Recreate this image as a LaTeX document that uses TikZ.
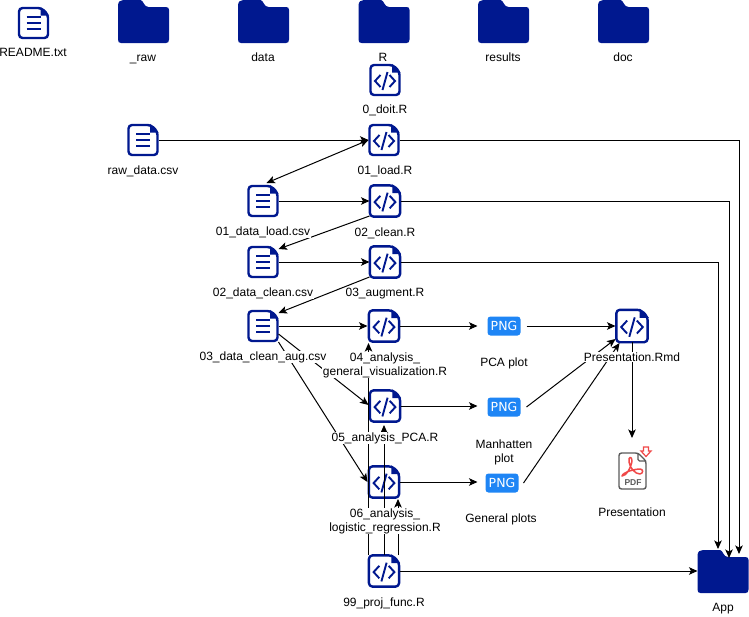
\documentclass[tikz,border=0pt]{standalone}
\usepackage{fontspec}
\setmainfont{Liberation Sans}
\newfontfamily\pngfont{DejaVu Sans}
\usetikzlibrary{arrows.meta,calc}
\definecolor{navy}{HTML}{00188F}
\definecolor{pngblue}{HTML}{1E85F5}
\definecolor{pdfred}{HTML}{F04848}
\definecolor{pdfgray}{HTML}{5A5A5A}
\tikzset{
  filebox/.style={shape=rectangle,inner sep=0pt,outer sep=0pt,minimum width=31pt,minimum height=32pt},
  folderbox/.style={shape=rectangle,inner sep=0pt,outer sep=0pt,minimum width=51pt,minimum height=43pt},
  pngbox/.style={shape=rectangle,rounded corners=3pt,fill=pngblue,text=white,inner sep=0pt,outer sep=0pt,minimum width=33pt,minimum height=19pt,font=\pngfont\fontsize{12.5}{13}\selectfont},
  pdfbox/.style={shape=rectangle,inner sep=0pt,outer sep=0pt,minimum width=28pt,minimum height=38pt},
  lab/.style={inner sep=0.5pt,fill=white,anchor=base,font=\fontsize{12}{14}\selectfont},
  lab2/.style={inner sep=0.5pt,fill=white,anchor=center,align=center,font=\fontsize{12}{14}\selectfont},
  conn/.style={draw=black,line width=1pt,-{Stealth[length=8.5pt,width=7.5pt,inset=2pt]}},
  bothconn/.style={draw=black,line width=1pt,{Stealth[length=8.5pt,width=7.5pt,inset=2pt]}-{Stealth[length=8.5pt,width=7.5pt,inset=2pt]}},
  icon/.style={draw=navy,line width=2.4pt,line join=round,fill=white},
  glyphline/.style={draw=navy,line width=1.9pt},
}
\newcommand\filebody{%
  \path[icon,rounded corners=3.5pt] (-14.5,-15) -- (8,-15) -- (14.5,-8.5) -- (14.5,15) -- (-14.5,15) -- cycle;
  \fill[navy] (7,-16.2) -- (15.7,-7.5) -- (7,-7.5) -- cycle;
}
\newcommand\docicon[3]{%
  \node[filebox] (#1) at (#2,#3) {};
  \begin{scope}[shift={(#1.center)}]
    \filebody
    \draw[glyphline] (-7,-6) -- (7,-6) (-7,0) -- (7,0) (-7,6) -- (7,6);
  \end{scope}}
\newcommand\codeicon[4][1]{%
  \node[filebox] (#2) at (#3,#4) {};
  \begin{scope}[shift={(#2.center)},scale=#1]
    \filebody
    \draw[glyphline] (-4.5,-5) -- (-10,1) -- (-4.5,7) (4.5,-5) -- (10,1) -- (4.5,7);
    \draw[glyphline] (2.5,-8) -- (-2.5,10);
  \end{scope}}
\newcommand\foldericon[3]{%
  \node[folderbox] (#1) at (#2,#3) {};
  \begin{scope}[shift={(#1.center)}]
    \fill[navy] (-25.5,18) -- (-25.5,-16) .. controls (-25.5,-20) and (-23,-21.5) .. (-20,-21.5) -- (-3,-21.5) .. controls (0,-21.5) and (0,-14.5) .. (5,-14.5) -- (22.5,-14.5) .. controls (24.5,-14.5) and (25.5,-13.5) .. (25.5,-11.5) -- (25.5,18) .. controls (25.5,20.5) and (24.5,21.5) .. (22.5,21.5) -- (-22.5,21.5) .. controls (-24.5,21.5) and (-25.5,20.5) .. (-25.5,18) -- cycle;
  \end{scope}}
\newcommand\pngicon[3]{\node[pngbox] (#1) at (#2,#3) {PNG};}
\begin{document}
\begin{tikzpicture}[x=1pt,y=-1pt]
\useasboundingbox (0,0) rectangle (749,616);
% folders
\foldericon{fraw}{143.5}{21.5}
\foldericon{fdata}{263.5}{21.5}
\foldericon{fR}{384}{21.5}
\foldericon{fresults}{503.5}{21.5}
\foldericon{fdoc}{623.5}{21.5}
\foldericon{app}{723}{571.5}
% files
\docicon{readme}{33.5}{23}
\docicon{rawcsv}{143}{140}
\docicon{loadcsv}{263}{201}
\docicon{cleancsv}{263}{262}
\docicon{augcsv}{263}{326}
\codeicon{doit}{385}{80}
\codeicon{load}{384}{140}
\codeicon[1.04]{clean}{385}{201}
\codeicon[1.04]{augment}{385}{262}
\codeicon[1.04]{viz}{384}{326}
\codeicon[1.04]{pca}{385}{406}
\codeicon[1.04]{logit}{384}{482}
\codeicon[1.04]{func}{384}{571}
\codeicon[1.08]{rmd}{632}{326}
% PNGs
\pngicon{pnga}{504}{326}
\pngicon{pngb}{504}{407}
\pngicon{pngc}{502}{483}
% PDF
\node[pdfbox] (pdf) at (632,471) {};
\begin{scope}[shift={(pdf.center)}]
  \draw[pdfgray,line width=1.4pt,rounded corners=2.5pt,fill=white] (-13,-18) -- (6,-18) -- (14,-10) -- (14,18) -- (-13,18) -- cycle;
  \draw[pdfgray,line width=1.2pt,rounded corners=1.5pt] (6,-18) -- (6,-10) -- (14,-10);
  \draw[pdfred,line width=1.5pt,line join=round] (-10,5) .. controls (-6,5) and (-1,-3) .. (0,-10) .. controls (0,-15) and (-4,-15) .. (-3,-9) .. controls (-2,-3) and (3,3) .. (8,3) .. controls (11.5,2.5) and (11.5,-2) .. (8,-2) .. controls (3,-2) and (-9,1) .. (-10,5) -- cycle;
  \node[inner sep=0pt,text=pdfgray,font=\fontsize{8.5}{9}\selectfont\bfseries] (pdftext) at (1,11.5) {PDF};
  \draw[pdfred,line width=1.2pt,line join=miter,fill=white] (11.5,-24) -- (16.5,-24) -- (16.5,-20) -- (19,-20) -- (14,-14.5) -- (9,-20) -- (11.5,-20) -- cycle;
\end{scope}
% connectors
\coordinate (apptopa) at (739,554);
\coordinate (apptopb) at (729,558);
\coordinate (apptopc) at (718,549);
\draw[conn] (rawcsv.east) -- (load.west);
\draw[bothconn] (load.west) -- ($(loadcsv.north east)+(-12,-2)$);
\draw[conn] (loadcsv.east) -- (clean.west);
\draw[conn] ($(clean.south west)+(0,-1)$) -- ($(cleancsv.north east)+(0,3)$);
\draw[conn] (cleancsv.east) -- (augment.west);
\draw[conn] ($(augment.south west)+(0,-1)$) -- ($(augcsv.north east)+(0,3)$);
\draw[conn] (augcsv.east) -- ($(viz.west)+(-1,0)$);
\draw[conn] ($(augcsv.east)+(0,8)$) -- ($(pca.west)+(-1,-1)$);
\draw[conn] (augcsv.south east) -- ($(logit.west)+(-1,0)$);
\draw[conn] (load.east) -- (load.east -| apptopa) -- (apptopa);
\draw[conn] (clean.east) -- (clean.east -| apptopb) -- (apptopb);
\draw[conn] (augment.east) -- (augment.east -| apptopc) -- (apptopc);
\draw[conn] (func.east) -- (app.west |- func.east);
\draw[conn] (viz.east) -- ($(pnga.west)+(-10,0)$);
\draw[conn] (pca.east) -- ($(pngb.west)+(-10,-1)$);
\draw[conn] (logit.east) -- ($(pngc.west)+(-8,-1)$);
\draw[conn] ($(pnga.east)+(6,0)$) -- ($(rmd.west)+(-1,0)$);
\draw[conn] ($(pngb.east)+(6,0)$) -- ($(rmd.south west)+(-1,-3)$);
\draw[conn] ($(pngc.east)+(5,0)$) -- ($(rmd.south west)+(3,1)$);
\draw[conn] (rmd.south) -- ($(pdf.north)+(0,-14)$);
\draw[conn] (func.north west) -- ($(viz.south west)+(0,1)$);
\draw[conn] (func.north) -- ($(pca.south)+(-1,3)$);
\draw[conn] ($(func.north)+(14,0)$) -- ($(logit.south)+(14,1)$);
% labels
\node[lab] (lreadme) at (33,56.5) {README.txt};
\node[lab] (lraw) at (143,61) {\_raw};
\node[lab] (ldata) at (263,61) {data};
\node[lab] (lR) at (383,61) {R};
\node[lab] (lresults) at (503,61) {results};
\node[lab] (ldoc) at (623,61) {doc};
\node[lab] (ldoit) at (385,113) {0\_doit.R};
\node[lab] (lrawcsv) at (143,174) {raw\_data.csv};
\node[lab] (lload) at (385,174) {01\_load.R};
\node[lab] (lloadcsv) at (263,235) {01\_data\_load.csv};
\node[lab] (lclean) at (385,236) {02\_clean.R};
\node[lab] (lcleancsv) at (263,296) {02\_data\_clean.csv};
\node[lab] (laugment) at (385,296.5) {03\_augment.R};
\node[lab2] (lviz) at (385,365) {04\_analysis\_\\general\_visualization.R};
\node[lab] (laugcsv) at (263,360.5) {03\_data\_clean\_aug.csv};
\node[lab] (lpca) at (385,441.5) {05\_analysis\_PCA.R};
\node[lab2] (llogit) at (385,521) {06\_analysis\_\\logistic\_regression.R};
\node[lab] (lfunc) at (384,606.5) {99\_proj\_func.R};
\node[lab] (lpnga) at (504,366.5) {PCA plot};
\node[lab2] (lpngb) at (504,452) {Manhatten\\plot};
\node[lab] (lpngc) at (501,522.5) {General plots};
\node[lab] (lrmd) at (632,361) {Presentation.Rmd};
\node[lab] (lpdf) at (632,516.5) {Presentation};
\node[lab] (lapp) at (723,611) {App};
\end{tikzpicture}
\end{document}
